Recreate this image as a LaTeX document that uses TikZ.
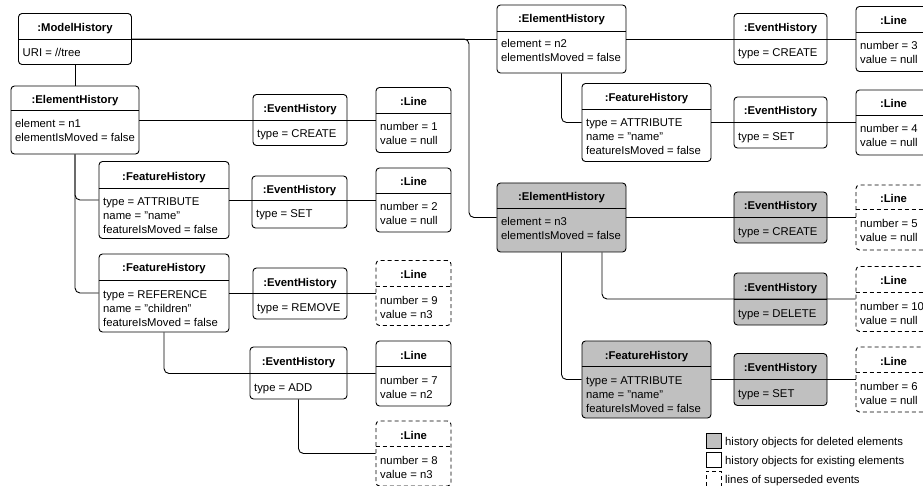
\documentclass[tikz,border=0pt]{standalone}
\usepackage{fontspec}
\setmainfont{Liberation Sans}
\usepackage{xcolor}
\definecolor{delgray}{RGB}{192,192,192}

\begin{document}
\begin{tikzpicture}[x=1pt,y=1pt,yscale=-1,xscale=1,
  font=\fontsize{11.3}{14}\selectfont,
  obj/.style={draw=black, line width=0.9pt, rounded corners=3.5pt, fill=white, inner sep=0pt},
  deleted/.style={fill=delgray},
  superseded/.style={dash pattern=on 4pt off 3pt},
  sepline/.style={line width=0.9pt},
  ttl/.style={font=\fontsize{11.3}{14}\selectfont\bfseries, anchor=base, inner sep=0pt},
  att/.style={anchor=base west, align=left, inner sep=0pt},
  link/.style={line width=0.9pt, rounded corners=5pt},
  legbox/.style={draw=black, line width=0.9pt, inner sep=0pt, minimum size=15}]
\useasboundingbox (0,0) rectangle (923,486);
\clip (0,0) rectangle (923,486);

%Shape: ModelHistory
\node [obj, minimum width=113, minimum height=51] (mh) at (75,39) {};
\draw [sepline] (mh.west |- 0,39) -- (mh.east |- 0,39);
\node [ttl] (mht) at (75,31.5) {:ModelHistory};
\node [att] (mha) at (22.5,57) {URI = //tree};

%Shape: ElementHistory n1
\node [obj, minimum width=128, minimum height=68] (eh1) at (75,120) {};
\draw [sepline] (eh1.west |- 0,110) -- (eh1.east |- 0,110);
\node [ttl] (eh1t) at (75,104) {:ElementHistory};
\node [att] (eh1a) at (15,142) {element = n1\\elementIsMoved = false};
%Shape: EventHistory CREATE n1
\node [obj, minimum width=94, minimum height=51] (ev1) at (300,120) {};
\draw [sepline] (ev1.west |- 0,120) -- (ev1.east |- 0,120);
\node [ttl] (ev1t) at (300,112.5) {:EventHistory};
\node [att] (ev1a) at (257,138) {type = CREATE};
%Shape: Line 1
\node [obj, minimum width=75, minimum height=65] (ln1) at (413.5,120) {};
\draw [sepline] (ln1.west |- 0,113) -- (ln1.east |- 0,113);
\node [ttl] (ln1t) at (413.5,105.5) {:Line};
\node [att] (ln1a) at (380,145) {number = 1\\value = null};

%Shape: FeatureHistory name n1
\node [obj, minimum width=130, minimum height=77] (fh1) at (164,200) {};
\draw [sepline] (fh1.west |- 0,188) -- (fh1.east |- 0,188);
\node [ttl] (fh1t) at (164,180.5) {:FeatureHistory};
\node [att] (fh1a) at (103,234) {type = ATTRIBUTE\\name = "name"\\featureIsMoved = false};
%Shape: EventHistory SET n1
\node [obj, minimum width=95, minimum height=52] (ev2) at (299.5,202) {};
\draw [sepline] (ev2.west |- 0,200) -- (ev2.east |- 0,200);
\node [ttl] (ev2t) at (299.5,194) {:EventHistory};
\node [att] (ev2a) at (256,218) {type = SET};
%Shape: Line 2
\node [obj, minimum width=75, minimum height=64] (ln2) at (413.5,200) {};
\draw [sepline] (ln2.west |- 0,193) -- (ln2.east |- 0,193);
\node [ttl] (ln2t) at (413.5,186) {:Line};
\node [att] (ln2a) at (380,225) {number = 2\\value = null};

%Shape: FeatureHistory children n1
\node [obj, minimum width=130, minimum height=78] (fh2) at (164,293) {};
\draw [sepline] (fh2.west |- 0,280) -- (fh2.east |- 0,280);
\node [ttl] (fh2t) at (164,272) {:FeatureHistory};
\node [att] (fh2a) at (103,326) {type = REFERENCE\\name = "children"\\featureIsMoved = false};
%Shape: EventHistory REMOVE
\node [obj, minimum width=94, minimum height=51] (ev3) at (300,293.5) {};
\draw [sepline] (ev3.west |- 0,293) -- (ev3.east |- 0,293);
\node [ttl] (ev3t) at (300,286) {:EventHistory};
\node [att] (ev3a) at (257,311) {type = REMOVE};
%Shape: Line 9
\node [obj, superseded, minimum width=75, minimum height=65] (ln9) at (413.5,293) {};
\draw [sepline, superseded] (ln9.west |- 0,286) -- (ln9.east |- 0,286);
\node [ttl] (ln9t) at (413.5,278.5) {:Line};
\node [att] (ln9a) at (380,318) {number = 9\\value = n3};

%Shape: EventHistory ADD
\node [obj, minimum width=97, minimum height=52] (ev4) at (298.5,373) {};
\draw [sepline] (ev4.west |- 0,373) -- (ev4.east |- 0,373);
\node [ttl] (ev4t) at (298.5,365) {:EventHistory};
\node [att] (ev4a) at (254,391) {type = ADD};
%Shape: Line 7
\node [obj, minimum width=75, minimum height=65] (ln7) at (413.5,373.5) {};
\draw [sepline] (ln7.west |- 0,366) -- (ln7.east |- 0,366);
\node [ttl] (ln7t) at (413.5,359) {:Line};
\node [att] (ln7a) at (380,398) {number = 7\\value = n2};
%Shape: Line 8
\node [obj, superseded, minimum width=75, minimum height=65] (ln8) at (413.5,453.5) {};
\draw [sepline, superseded] (ln8.west |- 0,446) -- (ln8.east |- 0,446);
\node [ttl] (ln8t) at (413.5,439) {:Line};
\node [att] (ln8a) at (380,478) {number = 8\\value = n3};

%Shape: ElementHistory n2
\node [obj, minimum width=129, minimum height=68] (eh2) at (561.5,39) {};
\draw [sepline] (eh2.west |- 0,31) -- (eh2.east |- 0,31);
\node [ttl] (eh2t) at (561.5,23) {:ElementHistory};
\node [att] (eh2a) at (501,62) {element = n2\\elementIsMoved = false};
%Shape: EventHistory CREATE n2
\node [obj, minimum width=93, minimum height=51] (ev5) at (780.5,39) {};
\draw [sepline] (ev5.west |- 0,39) -- (ev5.east |- 0,39);
\node [ttl] (ev5t) at (780.5,31.5) {:EventHistory};
\node [att] (ev5a) at (738,57) {type = CREATE};
%Shape: Line 3
\node [obj, minimum width=75, minimum height=65] (ln3) at (893.5,39) {};
\draw [sepline] (ln3.west |- 0,32) -- (ln3.east |- 0,32);
\node [ttl] (ln3t) at (893.5,24.5) {:Line};
\node [att] (ln3a) at (860,64) {number = 3\\value = null};

%Shape: FeatureHistory name n2
\node [obj, minimum width=129, minimum height=78] (fh3) at (646.5,122.5) {};
\draw [sepline] (fh3.west |- 0,109) -- (fh3.east |- 0,109);
\node [ttl] (fh3t) at (646.5,101.5) {:FeatureHistory};
\node [att] (fh3a) at (586,155) {type = ATTRIBUTE\\name = "name"\\featureIsMoved = false};
%Shape: EventHistory SET n2
\node [obj, minimum width=93, minimum height=51] (ev6) at (780.5,122.5) {};
\draw [sepline] (ev6.west |- 0,122.5) -- (ev6.east |- 0,122.5);
\node [ttl] (ev6t) at (780.5,115) {:EventHistory};
\node [att] (ev6a) at (738,141) {type = SET};
%Shape: Line 4
\node [obj, minimum width=75, minimum height=65] (ln4) at (893.5,122.5) {};
\draw [sepline] (ln4.west |- 0,115) -- (ln4.east |- 0,115);
\node [ttl] (ln4t) at (893.5,108) {:Line};
\node [att] (ln4a) at (860,147) {number = 4\\value = null};

%Shape: ElementHistory n3 (deleted)
\node [obj, deleted, minimum width=129, minimum height=69] (eh3) at (561.5,217.5) {};
\draw [sepline] (eh3.west |- 0,208) -- (eh3.east |- 0,208);
\node [ttl] (eh3t) at (561.5,201) {:ElementHistory};
\node [att] (eh3a) at (501,240) {element = n3\\elementIsMoved = false};
%Shape: EventHistory CREATE n3
\node [obj, deleted, minimum width=93, minimum height=51] (ev7) at (780.5,217.5) {};
\draw [sepline] (ev7.west |- 0,217.5) -- (ev7.east |- 0,217.5);
\node [ttl] (ev7t) at (780.5,210) {:EventHistory};
\node [att] (ev7a) at (738,235.5) {type = CREATE};
%Shape: Line 5
\node [obj, superseded, minimum width=75, minimum height=65] (ln5) at (893.5,217.5) {};
\draw [sepline, superseded] (ln5.west |- 0,209.5) -- (ln5.east |- 0,209.5);
\node [ttl] (ln5t) at (893.5,203) {:Line};
\node [att] (ln5a) at (860,241.5) {number = 5\\value = null};

%Shape: EventHistory DELETE
\node [obj, deleted, minimum width=93, minimum height=52] (ev8) at (780.5,299) {};
\draw [sepline] (ev8.west |- 0,299) -- (ev8.east |- 0,299);
\node [ttl] (ev8t) at (780.5,291) {:EventHistory};
\node [att] (ev8a) at (738,317) {type = DELETE};
%Shape: Line 10
\node [obj, superseded, minimum width=75, minimum height=65] (ln10) at (893.5,299) {};
\draw [sepline, superseded] (ln10.west |- 0,292) -- (ln10.east |- 0,292);
\node [ttl] (ln10t) at (893.5,284.5) {:Line};
\node [att] (ln10a) at (860,324) {number = 10\\value = null};

%Shape: FeatureHistory name n3
\node [obj, deleted, minimum width=129, minimum height=77] (fh4) at (646.5,379.5) {};
\draw [sepline] (fh4.west |- 0,366) -- (fh4.east |- 0,366);
\node [ttl] (fh4t) at (646.5,359) {:FeatureHistory};
\node [att] (fh4a) at (586,412) {type = ATTRIBUTE\\name = "name"\\featureIsMoved = false};
%Shape: EventHistory SET n3
\node [obj, deleted, minimum width=93, minimum height=52] (ev9) at (780.5,379.5) {};
\draw [sepline] (ev9.west |- 0,379.5) -- (ev9.east |- 0,379.5);
\node [ttl] (ev9t) at (780.5,371.5) {:EventHistory};
\node [att] (ev9a) at (738,397.5) {type = SET};
%Shape: Line 6
\node [obj, superseded, minimum width=75, minimum height=65] (ln6) at (893.5,379.5) {};
\draw [sepline, superseded] (ln6.west |- 0,372) -- (ln6.east |- 0,372);
\node [ttl] (ln6t) at (893.5,365) {:Line};
\node [att] (ln6a) at (860,404) {number = 6\\value = null};

%Straight Lines
\coordinate (bend) at (469,0);
\draw [link] (mh.south) -- (eh1.north);
\draw [link] (mh) -- (eh2);
\draw [link] (mh.east) -| (bend |- eh3.west) -- (eh3.west);
\draw [link] (eh1) -- (ln1);
\draw [link] (eh1.south) |- (fh1.west);
\draw [link] (eh1.south) |- (fh2.west);
\draw [link] (fh1) -- (ln2);
\draw [link] (fh2) -- (ln9);
\draw [link] (fh2.south) |- (ln7.west);
\draw [link] (ev4.south) |- (ln8.west);
\draw [link] (eh2) -- (ln3);
\draw [link] (eh2.south) |- (fh3.west);
\draw [link] (fh3) -- (ln4);
\draw [link] (eh3) -- (ln5);
\draw [link] ([xshift=40.5]eh3.south) |- (ln10.west);
\draw [link] (eh3.south) |- (fh4.west);
\draw [link] (fh4) -- (ln6);

%Legend
\node [legbox, fill=delgray] (leg1) at (713.5,440.5) {};
\node [legbox] (leg2) at (713.5,459.5) {};
\node [legbox, superseded] (leg3) at (713.5,478.5) {};
% Text Node
\node [att] (leg1t) at (725,445) {history objects for deleted elements};
\node [att] (leg2t) at (725,464) {history objects for existing elements};
\node [att] (leg3t) at (725,483) {lines of superseded events};

\end{tikzpicture}
\end{document}
